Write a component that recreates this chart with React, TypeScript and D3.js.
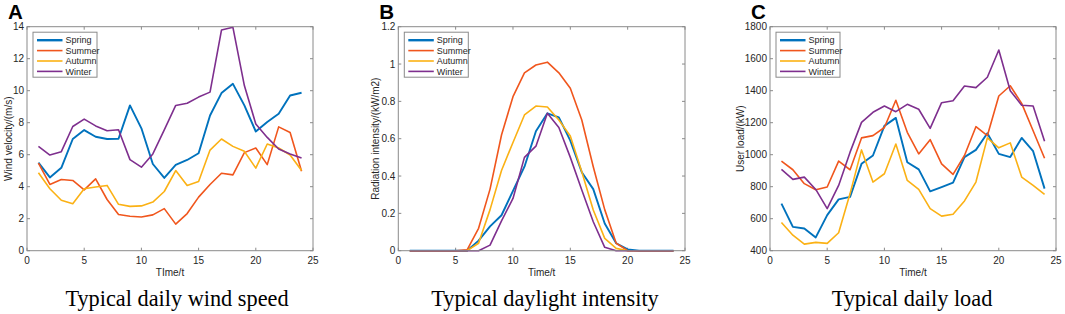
import React from "react";
import * as d3 from "d3";

const hours = [1, 2, 3, 4, 5, 6, 7, 8, 9, 10, 11, 12, 13, 14, 15, 16, 17, 18, 19, 20, 21, 22, 23, 24];
const seasons = ["Spring", "Summer", "Autumn", "Winter"];
const colors = ["#0072BD", "#F0561D", "#FBB114", "#7E2F8E"];

// Panel A: wind speed (m/s)
const windSpring = [5.5, 4.58, 5.18, 6.98, 7.54, 7.12, 6.98, 7.0, 9.08, 7.65, 5.42, 4.55, 5.36, 5.67, 6.09, 8.45, 9.85, 10.43, 9.08, 7.45, 8.05, 8.56, 9.7, 9.87];
const windSummer = [5.47, 4.14, 4.45, 4.39, 3.8, 4.49, 3.2, 2.26, 2.15, 2.11, 2.24, 2.63, 1.66, 2.32, 3.35, 4.14, 4.84, 4.74, 6.13, 6.42, 5.38, 7.74, 7.39, 4.97];
const windAutumn = [4.87, 3.87, 3.15, 2.94, 3.87, 3.98, 4.08, 2.9, 2.77, 2.8, 3.04, 3.7, 5.01, 4.08, 4.33, 6.29, 6.98, 6.52, 6.21, 5.16, 6.67, 6.42, 5.98, 5.01];
const windWinter = [6.52, 5.98, 6.19, 7.76, 8.22, 7.8, 7.5, 7.56, 5.69, 5.22, 6.05, 7.55, 9.08, 9.22, 9.6, 9.91, 13.79, 13.96, 10.32, 7.92, 7.08, 6.36, 6.05, 5.8];

// Panel B: radiation intensity (kW/m2)
const radSpring = [0, 0, 0, 0, 0, 0, 0.054, 0.13, 0.19, 0.32, 0.45, 0.64, 0.736, 0.714, 0.59, 0.42, 0.33, 0.146, 0.04, 0.007, 0, 0, 0, 0];
const radSummer = [0, 0, 0, 0, 0, 0.005, 0.12, 0.33, 0.62, 0.825, 0.953, 0.995, 1.01, 0.953, 0.87, 0.7, 0.45, 0.22, 0.04, 0.0, 0, 0, 0, 0];
const radAutumn = [0, 0, 0, 0, 0, 0, 0.04, 0.22, 0.43, 0.58, 0.727, 0.775, 0.77, 0.7, 0.614, 0.423, 0.218, 0.066, 0.0125, 0, 0, 0, 0, 0];
const radWinter = [0, 0, 0, 0, 0, 0, 0, 0.03, 0.16, 0.28, 0.5, 0.56, 0.736, 0.66, 0.5, 0.325, 0.155, 0.018, 0, 0, 0, 0, 0, 0];

// Panel C: user load (kW)
const loadSpring = [694, 549, 539, 483, 622, 721, 736, 943, 995, 1180, 1230, 953, 908, 771, 798, 825, 985, 1030, 1134, 1005, 985, 1105, 1022, 788];
const loadSummer = [960, 906, 819, 781, 798, 960, 906, 1105, 1119, 1170, 1340, 1140, 1005, 1094, 943, 877, 995, 1175, 1119, 1367, 1431, 1321, 1150, 978];
const loadAutumn = [576, 497, 441, 452, 446, 512, 757, 1030, 829, 881, 1067, 839, 783, 663, 616, 628, 711, 829, 1105, 1043, 1074, 860, 808, 752];
const loadWinter = [908, 846, 860, 783, 663, 808, 1016, 1202, 1265, 1304, 1269, 1315, 1284, 1165, 1325, 1337, 1429, 1419, 1484, 1654, 1400, 1309, 1304, 1084];

const xTicks = [0, 5, 10, 15, 20, 25];
const windTicks = [0, 2, 4, 6, 8, 10, 12, 14];
const radTicks = [0, 0.2, 0.4, 0.6, 0.8, 1, 1.2];
const loadTicks = [400, 600, 800, 1000, 1200, 1400, 1600, 1800];

const W = 1065;
const H = 314;
const TOP = 26.7;
const BOTTOM = 250.7;
const SANS = "'Liberation Sans', Arial, Helvetica, sans-serif";
const SERIF = "'Liberation Serif', 'Times New Roman', serif";
const AXIS = "#8a8a8a";
const TEXT = "#262626";

type PanelProps = {
  letter: string;
  x0: number;
  x1: number;
  series: number[][];
  yDomain: [number, number];
  yTicks: number[];
  yLabel: string;
  yLabelX: number;
  xLabel: string;
  title: string;
  titleX: number;
};

function Panel(p: PanelProps) {
  const x = d3.scaleLinear().domain([0, 25]).range([p.x0, p.x1]);
  const y = d3.scaleLinear().domain(p.yDomain).range([BOTTOM, TOP]);
  const line = d3
    .line<number>()
    .x((_, i) => x(hours[i]))
    .y((d) => y(d));
  const tl = 3;
  const fmt = (v: number) => String(v);
  const lx = p.x0 + 6;
  const ly = TOP + 5.5;
  return (
    <g>
      <text x={p.x0 - 19} y={18.5} fontFamily={SANS} fontWeight="bold" fontSize={20.5} fill="#000">
        {p.letter}
      </text>
      {xTicks.map((t) => (
        <g key={"x" + t}>
          <line x1={x(t)} x2={x(t)} y1={BOTTOM} y2={BOTTOM - tl} stroke={AXIS} />
          <line x1={x(t)} x2={x(t)} y1={TOP} y2={TOP + tl} stroke={AXIS} />
          <text x={x(t)} y={BOTTOM + 13.3} textAnchor="middle" fontFamily={SANS} fontSize={10} fill={TEXT}>
            {t}
          </text>
        </g>
      ))}
      {p.yTicks.map((t) => (
        <g key={"y" + t}>
          <line x1={p.x0} x2={p.x0 + tl} y1={y(t)} y2={y(t)} stroke={AXIS} />
          <line x1={p.x1} x2={p.x1 - tl} y1={y(t)} y2={y(t)} stroke={AXIS} />
          <text x={p.x0 - 3} y={y(t)} dy="0.35em" textAnchor="end" fontFamily={SANS} fontSize={10} fill={TEXT}>
            {fmt(t)}
          </text>
        </g>
      ))}
      {p.series.map((s, i) => (
        <path key={i} d={line(s) || ""} fill="none" stroke={colors[i]} strokeWidth={i === 0 ? 1.9 : 1.6} strokeLinejoin="round" />
      ))}
      <rect x={p.x0} y={TOP} width={p.x1 - p.x0} height={BOTTOM - TOP} fill="none" stroke={AXIS} strokeWidth={1} />
      <rect x={lx} y={ly} width={64} height={45} fill="#fff" stroke={AXIS} strokeWidth={1} />
      {seasons.map((s, i) => (
        <g key={s}>
          <line x1={lx + 4} x2={lx + 29.5} y1={ly + 8 + i * 10.4} y2={ly + 8 + i * 10.4} stroke={colors[i]} strokeWidth={i === 0 ? 2.4 : 1.6} />
          <text x={lx + 32.5} y={ly + 8 + i * 10.4} dy="0.35em" fontFamily={SANS} fontSize={9} fill={TEXT}>
            {s}
          </text>
        </g>
      ))}
      <text x={(p.x0 + p.x1) / 2} y={276} textAnchor="middle" fontFamily={SANS} fontSize={10} fill={TEXT}>
        {p.xLabel}
      </text>
      <text
        transform={`translate(${p.yLabelX},${(TOP + BOTTOM) / 2}) rotate(-90)`}
        textAnchor="middle"
        fontFamily={SANS}
        fontSize={10}
        fill={TEXT}
      >
        {p.yLabel}
      </text>
      <text x={p.titleX} y={306} textAnchor="middle" fontFamily={SERIF} fontSize={22.3} fill="#000">
        {p.title}
      </text>
    </g>
  );
}

export default function App() {
  return (
    <svg width={W} height={H} style={{ position: "absolute", left: 0, top: 0, background: "#fff" }}>
      <rect width={W} height={H} fill="#fff" />
      <Panel
        letter="A"
        x0={27}
        x1={313}
        series={[windSpring, windSummer, windAutumn, windWinter]}
        yDomain={[0, 14]}
        yTicks={windTicks}
        yLabel="Wind velocity/(m/s)"
        yLabelX={11.5}
        xLabel="TIme/t"
        title="Typical daily wind speed"
        titleX={177}
      />
      <Panel
        letter="B"
        x0={398.3}
        x1={685}
        series={[radSpring, radSummer, radAutumn, radWinter]}
        yDomain={[0, 1.2]}
        yTicks={radTicks}
        yLabel="Radiation intensity/(kW/m2)"
        yLabelX={379}
        xLabel="Time/t"
        title="Typical daylight intensity"
        titleX={545}
      />
      <Panel
        letter="C"
        x0={770}
        x1={1056}
        series={[loadSpring, loadSummer, loadAutumn, loadWinter]}
        yDomain={[400, 1800]}
        yTicks={loadTicks}
        yLabel="User load/(kW)"
        yLabelX={744}
        xLabel="Time/t"
        title="Typical daily load"
        titleX={912}
      />
    </svg>
  );
}
